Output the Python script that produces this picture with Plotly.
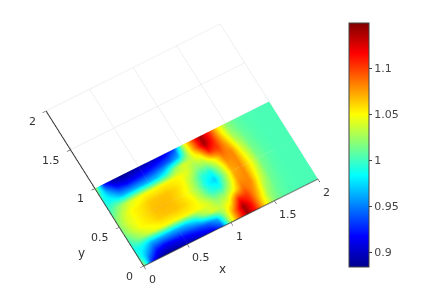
import plotly.graph_objects as go

x_values = [0, .1, .2, .3, .4, .5, .6, .7, .8, .9, 1.0, 1.1, 1.2, 1.3, 1.4, 1.5, 1.6, 1.7, 1.8, 1.9, 2.0]
y_values = [0, .1, .2, .3, .4, .5, .6, .7, .8, .9, 1.0]
z_values = [
 [1.03,.925,.890,.885,.888,.892,.896,.902,.912,.935,1.03,1.09,1.14,1.105,1.055,1.02,1.008,1.004,1.003,1.003,1.003],
 [1.00,.96,.925,.915,.918,.922,.928,.935,.945,.965,1.03,1.085,1.14,1.105,1.06,1.022,1.009,1.004,1.003,1.003,1.003],
 [.99,.985,.965,.965,.965,.965,.97,.985,1.02,1.04,1.035,1.05,1.105,1.10,1.07,1.03,1.011,1.005,1.003,1.003,1.003],
 [1.00,1.02,1.035,1.045,1.05,1.05,1.052,1.052,1.05,1.04,1.02,1.025,1.05,1.085,1.08,1.04,1.013,1.005,1.003,1.003,1.003],
 [1.015,1.035,1.05,1.055,1.063,1.065,1.065,1.06,1.05,1.025,.995,.99,1.03,1.075,1.08,1.046,1.015,1.006,1.003,1.003,1.003],
 [1.02,1.04,1.05,1.058,1.066,1.068,1.066,1.058,1.045,1.02,.985,.972,1.02,1.07,1.08,1.05,1.016,1.006,1.003,1.003,1.003],
 [1.015,1.035,1.05,1.055,1.063,1.065,1.065,1.06,1.05,1.025,.995,.99,1.03,1.075,1.08,1.046,1.015,1.006,1.003,1.003,1.003],
 [1.00,1.02,1.035,1.045,1.05,1.05,1.052,1.052,1.05,1.04,1.02,1.025,1.05,1.085,1.08,1.04,1.013,1.005,1.003,1.003,1.003],
 [.99,.985,.965,.965,.965,.965,.97,.985,1.02,1.04,1.035,1.05,1.105,1.10,1.07,1.03,1.011,1.005,1.003,1.003,1.003],
 [1.00,.96,.925,.915,.918,.922,.928,.935,.945,.965,1.03,1.085,1.14,1.105,1.06,1.022,1.009,1.004,1.003,1.003,1.003],
 [1.03,.925,.890,.885,.888,.892,.896,.902,.912,.935,1.03,1.09,1.14,1.105,1.055,1.02,1.008,1.004,1.003,1.003,1.003],
]
flat_z = [[0.0] * len(x_values) for _ in y_values]
ticks = [0, 0.5, 1, 1.5, 2]
tick_text = ["0", "0.5", "1", "1.5", "2"]
cbar_ticks = [0.9, 0.95, 1, 1.05, 1.1]
cbar_text = ["0.9", "0.95", "1", "1.05", "1.1"]
jet = [[0, "#00008f"], [0.125, "#0000ff"], [0.375, "#00ffff"], [0.625, "#ffff00"], [0.875, "#ff0000"], [1, "#800000"]]

axis = dict(range=[0, 2], tickvals=ticks, showticklabels=False, gridcolor="#e4e4e4", gridwidth=1,
            showline=True, linecolor="#333", linewidth=2, showbackground=False, zeroline=False,
            ticks="outside", ticklen=4, tickcolor="#333", title=dict(text=""), showspikes=False)
label_font = dict(family="DejaVu Sans", size=11, color="#333")
annotations = []
for v, t in zip(ticks, tick_text):
    annotations.append(dict(x=v, y=0, z=0, text=t, showarrow=False, xanchor="left", xshift=3, yshift=-14, font=label_font))
    annotations.append(dict(x=0, y=v, z=0, text=t, showarrow=False, xanchor="right", xshift=-8.5, yshift=-10.5, font=label_font))
title_font = dict(family="DejaVu Sans", size=12, color="#333")
annotations.append(dict(x=1, y=0, z=0, text="x", showarrow=False, xshift=-8.5, yshift=-46.5, font=title_font))
annotations.append(dict(x=0, y=0.5, z=0, text="y", showarrow=False, xshift=-37.5, yshift=-26, font=title_font))

fig = go.Figure(go.Surface(
    x=x_values, y=y_values, z=flat_z, surfacecolor=z_values,
    cmin=0.8837, cmax=1.1496, colorscale=jet, lighting=dict(ambient=1, diffuse=0, specular=0, roughness=1, fresnel=0),
    colorbar=dict(x=0.8065, xanchor="left", xpad=0, ypad=0, y=0.543, yanchor="middle", len=244, lenmode="pixels", thickness=20,
                  tickvals=cbar_ticks, ticktext=cbar_text, ticks="outside", ticklen=3,
                  outlinecolor="#444", outlinewidth=1, tickfont=dict(family="DejaVu Sans", size=11, color="#444")),
    showscale=True, hoverinfo="skip",
))
fig.update_layout(
    width=423, height=300, margin=dict(l=0, r=0, t=0, b=0), paper_bgcolor="white",
    font=dict(family="DejaVu Sans"),
    scene=dict(
        xaxis=axis, yaxis=axis,
        zaxis=dict(visible=False, range=[-1, 1]),
        aspectmode="manual", aspectratio=dict(x=1.458, y=1.458, z=0.001),
        camera=dict(projection=dict(type="orthographic"), eye=dict(x=-0.226, y=-0.403, z=0.902),
                    up=dict(x=0, y=0, z=1), center=dict(x=0, y=0, z=0)),
        domain=dict(x=[0, 0.822], y=[0.088, 1]),
        annotations=annotations,
    ),
)
fig.write_html("out.html")
